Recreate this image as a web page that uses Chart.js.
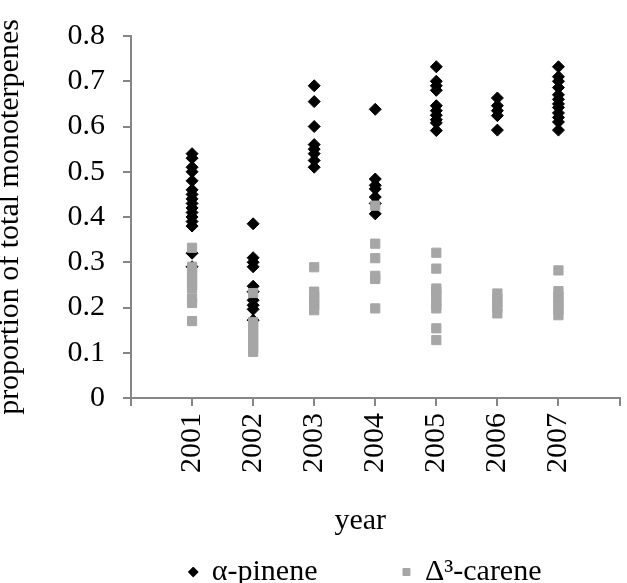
<!DOCTYPE html>
<html>
<head>
<meta charset="utf-8">
<script src="https://cdn.jsdelivr.net/npm/chart.js@4.4.1/dist/chart.umd.min.js"></script>
<style>
    body { margin: 0; background: #fff; }
    canvas { display: block; }
</style>
</head>
<body>
<canvas id="chart" width="627" height="583"></canvas>
<script>
// years on the x axis
const years = [2001, 2002, 2003, 2004, 2005, 2006, 2007];

// alpha-pinene, one list per year
const pinene = [
    [0.54, 0.53, 0.51, 0.50, 0.48, 0.46, 0.45, 0.44, 0.43, 0.42, 0.41, 0.40, 0.39, 0.38, 0.32, 0.29],
    [0.385, 0.31, 0.30, 0.29, 0.247, 0.235, 0.216, 0.205, 0.196, 0.172],
    [0.69, 0.655, 0.60, 0.56, 0.55, 0.54, 0.525, 0.51],
    [0.638, 0.484, 0.47, 0.462, 0.444, 0.43, 0.407],
    [0.732, 0.70, 0.69, 0.68, 0.646, 0.635, 0.625, 0.615, 0.608, 0.591],
    [0.663, 0.646, 0.635, 0.624, 0.592],
    [0.732, 0.71, 0.70, 0.686, 0.67, 0.66, 0.65, 0.642, 0.63, 0.62, 0.61, 0.592]
];

// delta-3-carene, one list per year
const carene = [
    [0.332, 0.29, 0.28, 0.27, 0.26, 0.25, 0.242, 0.22, 0.21, 0.17],
    [0.232, 0.168, 0.16, 0.15, 0.14, 0.13, 0.12, 0.11, 0.102],
    [0.289, 0.235, 0.225, 0.215, 0.205, 0.194],
    [0.425, 0.341, 0.309, 0.27, 0.263, 0.198],
    [0.321, 0.286, 0.242, 0.235, 0.225, 0.215, 0.205, 0.198, 0.154, 0.128],
    [0.231, 0.22, 0.21, 0.20, 0.187],
    [0.282, 0.236, 0.225, 0.215, 0.205, 0.195, 0.183]
];

const axisGray = '#868686';

// year lists -> {x, y} points
function toPoints(lists) {
    return years.flatMap((yr, i) => lists[i].map(v => ({ x: yr, y: v })));
}

Chart.defaults.font.family = '"Liberation Serif", "Times New Roman", serif';
Chart.defaults.font.size = 30;
Chart.defaults.color = '#000';

const defaultLabels = Chart.defaults.plugins.legend.labels.generateLabels;
// legend gaps
const legendPad = ['\u2003\u2003 ', '\u2003\u2003 '];

new Chart(document.getElementById('chart'), {
    type: 'scatter',
    data: {
        datasets: [{
            label: 'α-pinene',
            data: toPoints(pinene),
            pointStyle: 'rectRot',
            pointRadius: 6,
            backgroundColor: '#000',
            borderColor: '#000',
            pointBorderWidth: 1,
            order: 1
        }, {
            label: 'Δ³-carene',
            data: toPoints(carene),
            pointStyle: 'rect',
            pointRadius: 6.5,
            backgroundColor: '#a6a6a6',
            borderColor: '#a6a6a6',
            pointBorderWidth: 1,
            order: 0               // gray drawn on top
        }]
    },
    options: {
        responsive: false,
        animation: false,
        events: [],
        layout: { padding: { top: 35, right: 0, bottom: -14, left: 0 } },
        scales: {
            x: {
                type: 'linear',
                min: 2000,
                max: 2008,
                border: { color: axisGray, width: 2 },
                grid: { drawOnChartArea: false, tickLength: 8, color: axisGray, lineWidth: 2 },
                ticks: {
                    stepSize: 1,
                    autoSkip: false,
                    minRotation: 90,
                    maxRotation: 90,
                    padding: 7,
                    callback: v => years.includes(v) ? String(v) : ''
                },
                title: { display: true, text: 'year\u2003', padding: { top: 0, bottom: 0 } },
                afterFit: function (scale) {
                    scale.height = 141;
                    scale.paddingLeft = 0;
                    scale.paddingRight = 0;
                }
            },
            y: {
                min: 0,
                max: 0.8,
                border: { color: axisGray, width: 2 },
                grid: { drawOnChartArea: false, tickLength: 8, color: axisGray, lineWidth: 2 },
                ticks: { stepSize: 0.1, padding: 18 },
                title: { display: true, text: 'proportion of total monoterpenes', padding: { top: -8, bottom: 0 } },
                afterFit: function (scale) {
                    scale.width = 131;
                }
            }
        },
        plugins: {
            tooltip: { enabled: false },
            legend: {
                position: 'bottom',
                align: 'end',
                labels: {
                    usePointStyle: true,
                    boxWidth: 7,
                    boxHeight: 7,
                    padding: 18,
                    sort: (a, b) => a.datasetIndex - b.datasetIndex,
                    generateLabels: function (chart) {
                        return defaultLabels(chart).map(item => {
                            item.text = item.text + legendPad[item.datasetIndex];
                            return item;
                        });
                    }
                }
            }
        }
    }
});
</script>
</body>
</html>
